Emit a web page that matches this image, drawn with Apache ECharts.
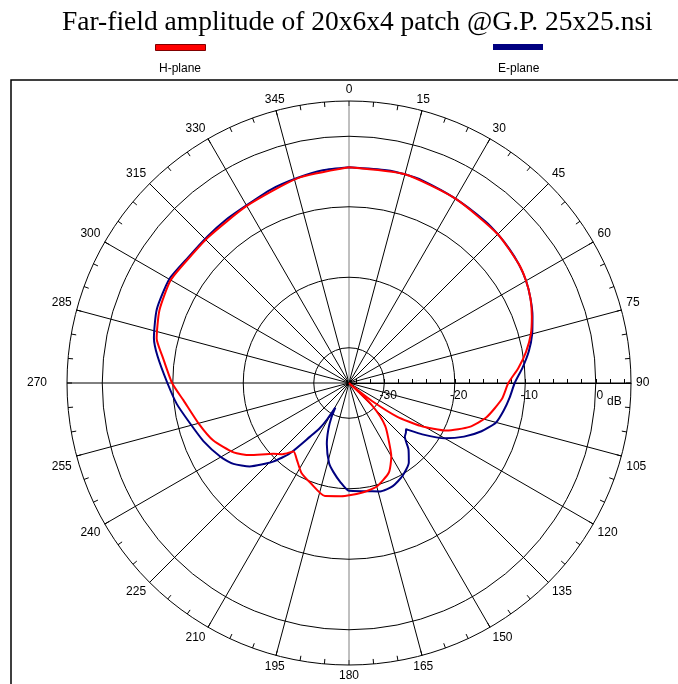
<!DOCTYPE html>
<html><head><meta charset="utf-8">
<script src="https://cdn.jsdelivr.net/npm/echarts@6/dist/echarts.min.js"></script>
<style>html,body{margin:0;padding:0;background:#fff}#c{width:678px;height:684px}</style>
</head><body><div id="c"></div><script>
const titleText = 'Far-field amplitude of 20x6x4 patch @G.P. 25x25.nsi';
const seriesNames = ['H-plane', 'E-plane'];
const dbTicks = ['-35','-34','-33','-32','-31','-30','-29','-28','-27','-26','-25','-24','-23','-22','-21','-20','-19','-18','-17','-16','-15','-14','-13','-12','-11','-10','-9','-8','-7','-6','-5','-4','-3','-2','-1','0','1','2','3','4','5'];
const radiusUnit = 'dB';

// H-plane (red)
const hAngles = [0,15,30,45,55,60,65,70,75,80,85,90,96,104,110,116,121,125,128,130,131.5,133,134,137,140,144,150,156,165,174,184,192,201,208,214,219,223,227,234,239,247,255,264,270,278,283,291,300,308,316,330,346,360];
const hValues = [-4.4,-4.35,-4.8,-5.15,-5.6,-6.0,-6.6,-7.4,-8.3,-9.5,-10.9,-12.4,-13.2,-14.9,-16.8,-19.6,-23.2,-26.7,-30.8,-34,-35,-33,-30.5,-28.5,-27.0,-25.6,-23.0,-21.1,-19.8,-19.3,-18.9,-18.6,-19.8,-20.6,-21.8,-22.5,-21.2,-20.3,-17.6,-15.9,-14.1,-12.9,-11.4,-9.9,-8.3,-7.0,-6.2,-5.8,-6.2,-6.25,-6.0,-5.05,-4.4];

// E-plane (navy)
const eAngles = [0,10,15,20,30,40,45,50,55,60,65,70,75,80,85,90,95,100,105,110,115,120,125,129,131,134,138,143,150,157,164,172,180,185,190,194,200,204,207,209,211,213,216,220,224,230,235,240,248,256,263,270,278,283,291,300,308,316,323,330,338,346,353,360];
const eValues = [-4.4,-4.35,-4.35,-4.45,-4.8,-5.0,-5.15,-5.35,-5.6,-6.0,-6.6,-7.3,-8.1,-9.1,-10.3,-11.5,-12.1,-12.7,-13.4,-15.0,-17.0,-19.3,-22.3,-24.6,-24.3,-24.0,-22.4,-20.9,-19.8,-19.1,-19.0,-19.5,-19.7,-20.9,-22.2,-23.3,-25.8,-27.8,-29.5,-31,-29,-27.3,-25.6,-22.0,-19.5,-16.6,-15.0,-14.0,-12.8,-11.7,-10.4,-9.24,-7.57,-6.6,-5.8,-5.56,-6.05,-6.1,-6.0,-5.9,-5.4,-5.0,-4.6,-4.4];

const colors = ['#ff0000', '#000080'];
const CX = 349, CY = 383, R = 282;
const font = 'Liberation Sans, Arial, sans-serif';

const chart = echarts.init(document.getElementById('c'), null, {renderer: 'canvas'});
const spokeColors = [];
for (let i = 0; i < 12; i++) spokeColors.push(i === 6 ? '#808080' : '#000');

function angleLabel(v) {
  const a = v % 360;
  if (a === 105 || a === 255) return '{dn|' + a + '}';
  if (a === 75 || a === 285) return '{up|' + a + '}';
  if (a === 270) return '{lf|' + a + '}';
  return String(a);
}

chart.setOption({
  animation: false,
  backgroundColor: '#fff',
  title: {
    text: titleText, left: 57, top: 4,
    textStyle: {fontFamily: 'Liberation Serif, Times New Roman, serif', fontWeight: 'normal', fontSize: 27.5, color: '#000'}
  },
  legend: [
    {data: [seriesNames[0]], left: 155, top: 44, itemWidth: 50, itemHeight: 6, icon: 'rect', formatter: () => '', padding: 0,
     itemStyle: {borderColor: '#800000', borderWidth: 1}},
    {data: [seriesNames[1]], left: 493, top: 44, itemWidth: 50, itemHeight: 6, icon: 'rect', formatter: () => '', padding: 0}
  ],
  graphic: [
    {type: 'rect', shape: {x: 11, y: 80, width: 700, height: 700}, style: {fill: 'none', stroke: '#000', lineWidth: 1.5}, silent: true, z: -1},
    {type: 'text', left: 180 - 21, top: 63, style: {text: seriesNames[0], font: '12px ' + font, fill: '#000'}},
    {type: 'text', left: 518 - 20, top: 63, style: {text: seriesNames[1], font: '12px ' + font, fill: '#000'}}
  ],
  polar: [
    {center: [CX, CY], radius: R},
    {center: [CX, CY], radius: R}
  ],
  angleAxis: [
    {
      polarIndex: 0, type: 'value', min: 90, max: 450, interval: 15, startAngle: 0, clockwise: true,
      axisLine: {show: true, lineStyle: {color: '#000', width: 1}},
      axisTick: {show: true, inside: true, length: 5, lineStyle: {color: '#000'}},
      minorTick: {show: true, splitNumber: 3, length: 5, lineStyle: {color: '#000'}},
      axisLabel: {show: true, margin: 5, color: '#000', fontSize: 12, fontFamily: font,
        formatter: angleLabel,
        rich: {
          dn: {fontSize: 12, fontFamily: font, color: '#000', padding: [18, 0, 0, 0]},
          up: {fontSize: 12, fontFamily: font, color: '#000', padding: [0, 0, 12, 0]},
          lf: {fontSize: 12, fontFamily: font, color: '#000', padding: [0, 15, 0, 0]}
        }},
      splitLine: {show: true, lineStyle: {color: spokeColors, width: 1}},
      z: 1
    },
    {polarIndex: 1, type: 'value', min: 0, max: 360, startAngle: 90, clockwise: true, show: false,
     axisLine: {show: false}, axisTick: {show: false}, axisLabel: {show: false}, splitLine: {show: false}}
  ],
  radiusAxis: [
    {
      polarIndex: 0, type: 'category', data: dbTicks, boundaryGap: false,
      axisLine: {show: true, lineStyle: {color: '#000', width: 1}},
      axisTick: {show: true, length: 4, interval: (i, v) => Number(v) % 2 === 0, lineStyle: {color: '#000'}},
      axisLabel: {show: true, color: '#000', fontSize: 12, fontFamily: font, margin: -19, padding: [0, 0, 0, 8],
        interval: (i, v) => Number(v) % 10 === 0 && Number(v) > -35 && Number(v) < 5},
      splitLine: {show: true, lineStyle: {color: ['none', 'none', '#000', 'none', 'none'], width: 1}},
      name: radiusUnit, nameLocation: 'end', nameGap: -27,
      nameTextStyle: {color: '#000', fontSize: 12, fontFamily: font, verticalAlign: 'top', padding: [13, 0, 0, 0]},
      z: 2
    },
    {polarIndex: 1, type: 'value', min: -35, max: 5, show: false,
     axisLine: {show: false}, axisTick: {show: false}, axisLabel: {show: false}, splitLine: {show: false}}
  ],
  series: [
    {name: seriesNames[0], type: 'line', coordinateSystem: 'polar', polarIndex: 1, symbol: 'none', smooth: 0.2,
     color: colors[0], lineStyle: {width: 2, color: colors[0]}, z: 5,
     data: hAngles.map((a, i) => [hValues[i], a])},
    {name: seriesNames[1], type: 'line', coordinateSystem: 'polar', polarIndex: 1, symbol: 'none', smooth: 0.2,
     color: colors[1], lineStyle: {width: 2, color: colors[1]}, z: 4,
     data: eAngles.map((a, i) => [eValues[i], a])}
  ]
});
</script></body></html>
